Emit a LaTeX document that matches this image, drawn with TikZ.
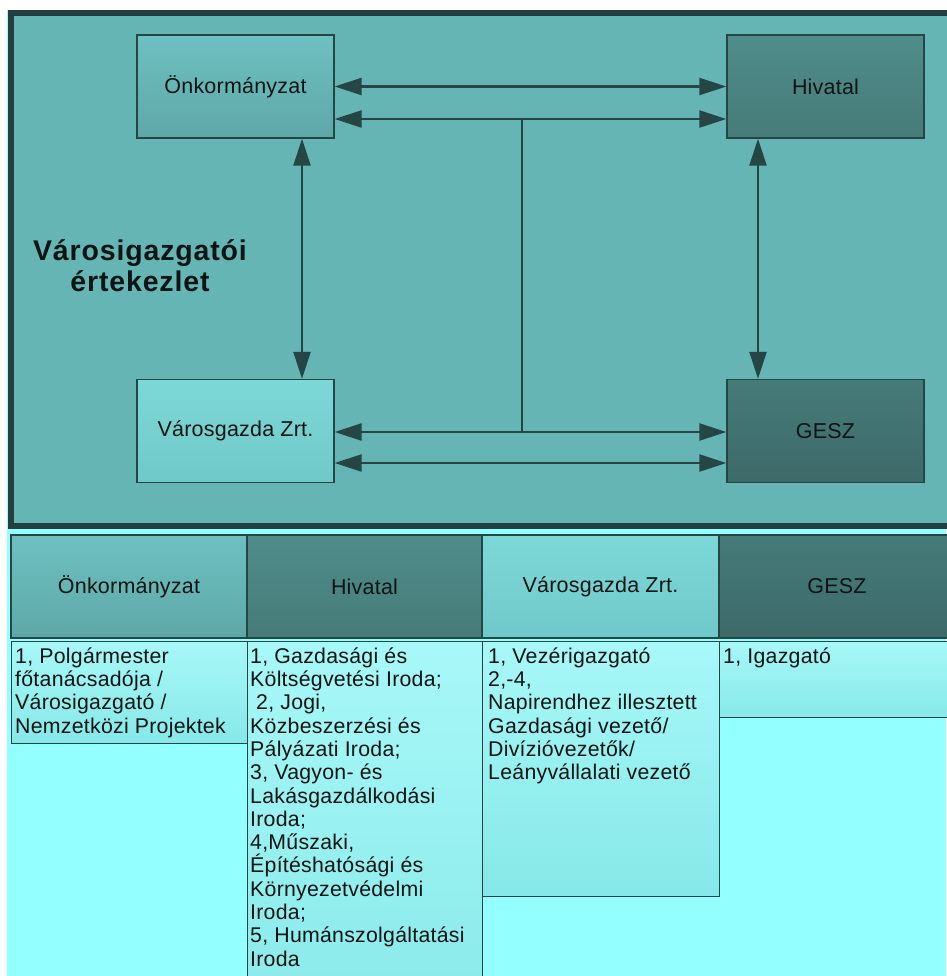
\documentclass[tikz,border=0pt]{standalone}
\usepackage{fontspec}
\setmainfont{Liberation Sans}
\newfontfamily\boxfont{Liberation Sans}[LetterSpace=1.0]
\newfontfamily\listfont{Liberation Sans}[LetterSpace=1.2]
\newfontfamily\titlefont{Liberation Sans}[LetterSpace=3]
\usetikzlibrary{arrows.meta}

\definecolor{ink}{HTML}{264545}
\definecolor{textdark}{HTML}{0C1414}
\definecolor{framefill}{HTML}{66B5B5}
\definecolor{frameline}{HTML}{233F3F}
\definecolor{cyanbg}{HTML}{94FFFF}
\definecolor{onkTop}{HTML}{6EC1C1}
\definecolor{onkBot}{HTML}{5EA7A7}
\definecolor{hivTop}{HTML}{4F8D8B}
\definecolor{hivBot}{HTML}{467B79}
\definecolor{vgTop}{HTML}{7CD8D6}
\definecolor{vgBot}{HTML}{70C9C9}
\definecolor{geszTop}{HTML}{457B79}
\definecolor{geszBot}{HTML}{3D6A69}
\definecolor{cellTop}{HTML}{A8F8F8}
\definecolor{cellBot}{HTML}{86E8E8}

\tikzset{
  unit/.style={draw=ink, line width=1.3pt, inner sep=0pt,
    minimum width=197pt, minimum height=103pt,
    font=\boxfont\fontsize{21.5}{25}\selectfont, text=textdark},
  onkfill/.style={top color=onkTop, bottom color=onkBot},
  hivfill/.style={top color=hivTop, bottom color=hivBot},
  vgfill/.style={top color=vgTop, bottom color=vgBot},
  geszfill/.style={top color=geszTop, bottom color=geszBot},
  hdr/.style={unit, minimum height=103pt},
  cell/.style={draw=ink, line width=1.3pt, inner sep=0pt, anchor=north west,
    top color=cellTop, bottom color=cellBot},
  listtext/.style={anchor=north west, inner sep=0pt, align=left,
    font=\listfont\fontsize{21.3}{23.3}\selectfont, text=textdark},
  heading/.style={align=center, inner sep=0pt,
    font=\titlefont\bfseries\fontsize{28.5}{31}\selectfont, text=textdark},
  both/.style={{Triangle[length=27pt,width=17pt]}-{Triangle[length=27pt,width=17pt]},
    draw=ink, line width=2.3pt},
  link/.style={draw=ink, line width=2.3pt}
}

\begin{document}
\begin{tikzpicture}[x=1pt,y=-1pt]
\useasboundingbox (0,0) rectangle (946,976);
\fill[white] (0,0) rectangle (946,976);
\fill[cyanbg] (7,10) rectangle (946,976);

% meeting frame
\draw[line width=6pt, draw=frameline, fill=framefill] (11,13) rectangle (952,526);

\node[heading] (title) at (140,266) {Városigazgatói\\értekezlet};

% the four organisations
\node[unit, onkfill]  (onk)  at (235.5,86.5) {Önkormányzat};
\node[unit, hivfill]  (hiv)  at (825.5,86.5) {Hivatal};
\node[unit, vgfill]   (vg)   at (235.5,431)  {Városgazda Zrt.};
\node[unit, geszfill] (gesz) at (825.5,431)  {GESZ};

% connections
\coordinate (r2) at (0,119);
\coordinate (r3) at (0,432);
\coordinate (r4) at (0,463);
\coordinate (c1) at (302,0);
\coordinate (c2) at (758,0);
\coordinate (j1) at (522,119);
\coordinate (j2) at (522,432);

\draw[both] (onk.east) -- (hiv.west);
\draw[both] (onk.east |- r2) -- (hiv.west |- r2);
\draw[both] (vg.east |- r3) -- (gesz.west |- r3);
\draw[both] (vg.east |- r4) -- (gesz.west |- r4);
\draw[link] (j1) -- (j2);
\draw[both] (onk.south -| c1) -- (vg.north -| c1);
\draw[both] (hiv.south -| c2) -- (gesz.north -| c2);

% table header
\node[hdr, onkfill,  minimum width=236pt] (h1) at (129,586.5)   {Önkormányzat};
\node[hdr, hivfill,  minimum width=235pt] (h2) at (364.5,586.5) {Hivatal};
\node[hdr, vgfill,   minimum width=237pt] (h3) at (600.5,586.5) {Városgazda Zrt.};
\node[hdr, geszfill, minimum width=236pt] (h4) at (837,586.5)   {GESZ};

% table cells
\node[cell, minimum width=236pt, minimum height=102pt] (b1) at (11,641)  {};
\node[cell, minimum width=235pt, minimum height=420pt] (b2) at (247,641) {};
\node[cell, minimum width=237pt, minimum height=255pt] (b3) at (482,641) {};
\node[cell, minimum width=240pt, minimum height=76pt]  (b4) at (719,641) {};

\node[listtext] (t1) at (15,646.7) {\strut 1, Polgármester\\főtanácsadója /\\Városigazgató /\\Nemzetközi Projektek};
\node[listtext] (t2) at (250,646.7) {\strut 1, Gazdasági és\\Költségvetési Iroda;\\\hspace*{6pt}2, Jogi,\\Közbeszerzési és\\Pályázati Iroda;\\3, Vagyon- és\\Lakásgazdálkodási\\Iroda;\\4,Műszaki,\\Építéshatósági és\\Környezetvédelmi\\Iroda;\\5, Humánszolgáltatási\\Iroda};
\node[listtext] (t3) at (488,646.7) {\strut 1, Vezérigazgató\\2,-4,\\Napirendhez illesztett\\Gazdasági vezető/\\Divízióvezetők/\\Leányvállalati vezető};
\node[listtext] (t4) at (723,646.7) {\strut 1, Igazgató};
\end{tikzpicture}
\end{document}
